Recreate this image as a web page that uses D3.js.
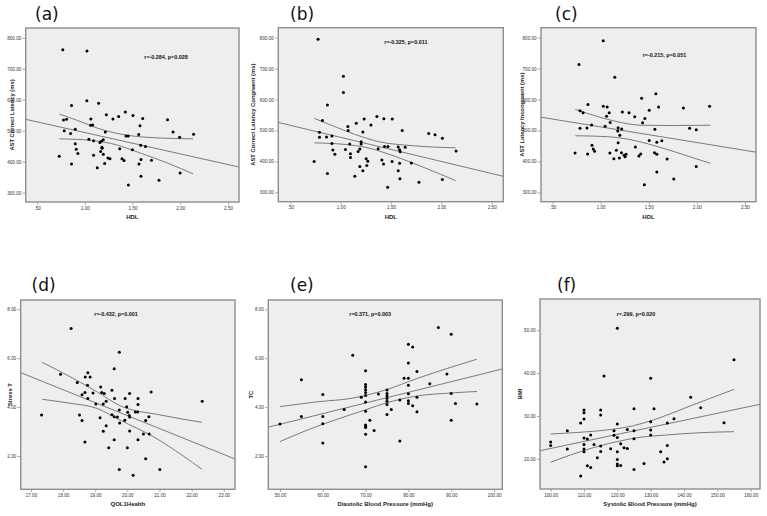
<!DOCTYPE html>
<html><head><meta charset="utf-8">
<script src="https://cdn.jsdelivr.net/npm/d3@7"></script>
<style>body{margin:0;background:#fff}svg{display:block}</style>
</head><body><svg id="c" width="767" height="516"></svg>
<script>
// ---------- tick labels ----------
const hdlTicks = [0.5, 1, 1.5, 2, 2.5];
const latencyTicks = [300, 400, 500, 600, 700, 800];
const qolTicks = [17, 18, 19, 20, 21, 22, 23];
const stressTicks = [2, 4, 6, 8];
const dbpTicks = [50, 60, 70, 80, 90, 100];
const tcTicks = [2, 4, 6, 8];
const sbpTicks = [100, 110, 120, 130, 140, 150, 160];
const bmiTicks = [20, 30, 40, 50];

// ---------- (a) HDL vs AST Correct Latency ----------
const aX = [0.769,1.022,1.021,1.144,0.860,1.225,1.294,1.354,1.424,1.504,1.606,1.866,0.776,0.808,1.063,1.060,1.081,1.578,1.924,1.993,2.139,0.784,0.899,0.850,1.214,1.564,1.431,1.454,1.042,1.091,1.172,1.193,0.899,1.158,1.179,1.181,1.585,1.635,1.365,1.499,0.910,0.927,1.165,1.193,0.731,1.091,1.242,1.263,1.389,1.410,1.698,1.588,0.860,1.207,1.567,1.130,1.998,1.588,1.777,1.456];
const aY = [762,758,597,589,582,552,538,546,561,549,540,536,535,537,538,518,519,516,496,479,489,500,505,491,496,488,483,483,473,468,466,471,458,462,447,444,453,449,442,439,440,427,433,424,418,421,412,410,410,404,405,407,393,394,393,381,364,353,340,325];
const aFitX = [0.38, 2.615], aFitY = [537, 383];
const aUpX = [0.734,0.927,1.137,1.417,1.767,2.134], aUpY = [554,533,508,487,477,474];
const aLoX = [0.734,1.067,1.277,1.592,1.872,2.134], aLoY = [474,469,459,427,395,361];

// ---------- (b) HDL vs AST Correct Latency Congruent ----------
const bX = [0.775,1.027,1.027,0.868,0.819,1.233,1.359,1.429,1.512,1.154,1.300,1.071,1.074,1.611,1.220,0.789,0.789,0.859,0.912,1.874,1.937,2.010,0.912,1.203,1.203,1.090,1.047,0.922,0.942,1.097,1.097,1.190,1.173,1.372,1.435,1.469,1.571,1.585,1.591,1.641,2.146,1.253,1.269,1.259,1.409,1.425,1.510,1.585,1.701,1.190,1.220,1.140,1.571,1.588,2.010,1.777,1.466,0.736,0.868];
const bY = [795,675,623,582,532,537,545,538,537,523,518,513,500,500,495,494,478,479,482,490,486,475,458,464,456,456,439,437,423,425,413,440,432,441,448,448,447,438,431,446,434,409,401,387,405,392,400,394,395,384,370,352,370,344,342,333,317,400,361];
const bFitX = [0.38, 2.615], bFitY = [526, 352];
const bUpX = [0.739,0.945,1.145,1.377,1.709,2.142], bUpY = [539,512,487,464,451,444];
const bLoX = [0.739,1.045,1.244,1.543,1.808,2.142], bLoY = [460,455,446,416,383,338];

// ---------- (c) HDL vs AST Latency Incongruent ----------
const cX = [1.027,0.775,1.147,1.426,1.574,0.868,1.027,1.068,1.602,2.132,1.860,0.786,0.817,1.061,1.089,1.226,1.295,1.354,1.505,1.460,1.436,1.099,1.047,0.906,0.786,0.858,1.182,1.219,1.178,1.564,1.925,1.994,1.199,1.505,1.636,1.584,1.182,1.361,0.910,0.923,0.937,0.734,0.865,1.096,1.164,1.216,1.244,1.264,1.254,1.137,1.195,1.398,1.416,1.560,1.584,1.691,1.584,1.994,1.760,1.454];
const cY = [790,713,672,604,619,584,578,576,576,578,573,564,557,546,557,560,557,544,565,539,525,526,514,518,507,508,509,505,498,504,507,502,485,468,467,462,460,447,452,440,433,427,424,427,436,428,420,423,415,409,411,418,424,428,423,408,366,384,343,325];
const cFitX = [0.38, 2.615], cFitY = [543, 430];
const cUpX = [0.737,0.969,1.177,1.420,1.766,2.140], cUpY = [568,545,528,517,516,517];
const cLoX = [0.737,1.073,1.281,1.593,1.870,2.140], cLoY = [483,480,472,448,421,394];

// ---------- (d) QOL1Health vs Stress T ----------
const dX = [18.25,19.75,19.59,17.92,18.77,18.44,18.69,18.84,18.76,19.17,19.20,19.28,18.93,18.68,18.59,18.77,19.52,20.07,20.74,19.60,19.93,20.33,19.02,19.25,19.34,20.33,22.33,19.98,19.75,20.01,20.25,20.32,20.06,20.07,19.52,19.59,19.69,19.15,17.33,18.51,20.67,18.59,20.57,19.92,19.76,19.34,20.07,19.25,20.50,20.68,19.59,20.33,18.68,19.42,20.00,20.57,19.75,21.01,20.18];
const dY = [7.21,6.24,5.57,5.34,5.41,5.01,5.23,5.23,4.89,4.82,4.60,4.56,4.58,4.60,4.51,4.35,4.69,4.56,4.62,4.35,4.35,4.35,4.13,4.13,4.24,4.11,4.24,4.02,3.88,3.79,3.80,3.80,3.66,3.60,3.69,3.61,3.60,3.57,3.68,3.68,3.61,3.45,3.45,3.46,3.35,3.24,3.02,3.01,2.90,2.90,2.67,2.67,2.57,2.34,2.34,1.89,1.45,1.45,1.21];
const dFitX = [16.68, 23.35], dFitY = [5.41, 1.88];
const dUpX = [17.35,18.21,19.05,19.77,21.02,22.32], dUpY = [5.83,5.25,4.63,4.06,3.68,3.38];
const dLoX = [17.35,18.21,19.05,19.77,20.81,21.74,22.32], dLoY = [4.32,4.16,3.95,3.47,2.79,2.00,1.46];

// ---------- (e) Diastolic Blood Pressure vs TC ----------
const eX = [87,90,80,81,67,80,70,82,55,89,79,80,85,70,70,70,70,70,80,75,75,75,75,75,75,73,69,70,80,80,80,82,82,78,81,90,91,96,90,76,75,65,60,55,60,60,50,60,71,70,70,70,70,72,78,70,70];
const eY = [7.26,6.98,6.57,6.46,6.12,5.80,5.49,5.46,5.12,5.35,5.18,5.18,4.96,4.93,4.82,4.71,4.60,4.48,4.89,4.70,4.56,4.45,4.35,4.24,4.11,4.54,4.40,4.21,4.55,4.26,4.15,4.40,3.81,4.29,4.06,4.56,4.15,4.13,3.46,3.90,3.70,3.90,4.52,3.62,3.62,3.32,3.31,2.53,3.46,3.27,3.21,3.17,2.89,3.04,2.61,3.83,1.56];
const eFitX = [47.27, 101.94], eFitY = [3.18, 5.56];
const eUpX = [50,58.9,66.7,74.6,82.2,89.2,96], eUpY = [4.02,4.22,4.36,4.70,5.18,5.59,5.96];
const eLoX = [50,56.5,62.8,69.8,74.6,82.2,89.2,96], eLoY = [2.59,3.07,3.47,3.88,4.16,4.46,4.57,4.64];

// ---------- (f) Systolic Blood Pressure vs BMI ----------
const fX = [120,155,116,130,142,145,125,131,110,110,110,115,115,137,135,130,152,109,120,105,119,123,125,130,130,112,119,120,110,111,125,100,100,110,113,115,121,135,105,110,118,122,123,110,115,120,133,114,120,135,134,128,111,112,120,120,121,125,109];
const fY = [50.47,43.14,39.32,38.78,34.33,31.92,31.68,31.68,31.37,30.75,29.27,31.37,30.20,29.35,28.33,28.64,28.41,28.33,28.10,26.54,26.54,26.85,26.54,26.70,25.53,25.53,25.45,24.98,24.82,24.59,24.67,23.89,23.11,23.34,23.34,22.95,23.50,23.11,22.25,22.25,22.33,22.56,22.41,21.63,21.70,21.63,21.63,20.23,19.84,19.99,19.21,18.90,18.36,17.97,18.75,18.36,18.43,17.50,15.94];
const fFitX = [96.8, 162.8], fFitY = [21.87, 32.71];
const fUpX = [100,108.8,116.8,124.8,132.8,141.8,155], fUpY = [25.77,26.17,26.70,27.71,29.58,32.31,36.20];
const fLoX = [100,106.8,113.8,120.8,126.8,134.8,144.8,155], fLoY = [19.16,21.10,22.80,24.14,25.00,25.54,26.07,26.31];

// ---------- drawing ----------
const svg = d3.select("#c");
const FONT = "'Liberation Sans', Arial, sans-serif";
const fmt2 = v => d3.format(".2f")(v).replace(/^0\./, ".");

function drawPanel(p) {
  const g = svg.append("g");
  const x = d3.scaleLinear().domain(p.xDom).range([p.x0, p.x1]);
  const y = d3.scaleLinear().domain(p.yDom).range([p.y1, p.y0]);

  g.append("rect").attr("x", p.x0).attr("y", p.y0)
    .attr("width", p.x1 - p.x0).attr("height", p.y1 - p.y0)
    .attr("fill", "#eeeeee").attr("stroke", "#8e8e8e").attr("stroke-width", 1.4);

  const ya = g.append("g").attr("transform", `translate(${p.x0 - 0.7},0)`)
    .call(d3.axisLeft(y).tickValues(p.yTicks).tickSize(2.5).tickPadding(1.2).tickFormat(fmt2));
  const xa = g.append("g").attr("transform", `translate(0,${p.y1 + 0.7})`)
    .call(d3.axisBottom(x).tickValues(p.xTicks).tickSize(2).tickPadding(1.6).tickFormat(fmt2));
  [ya, xa].forEach(a => {
    a.select(".domain").remove();
    a.selectAll("line").attr("stroke", "#666").attr("stroke-width", 0.6);
    a.selectAll("text").attr("font-size", 4.6).attr("font-family", FONT).attr("fill", "#333");
  });

  const clipId = "clip" + p.id;
  svg.append("clipPath").attr("id", clipId).append("rect")
    .attr("x", p.x0).attr("y", p.y0).attr("width", p.x1 - p.x0).attr("height", p.y1 - p.y0);

  const line = d3.line().x(d => x(d[0])).y(d => y(d[1]));
  const curve = d3.line().x(d => x(d[0])).y(d => y(d[1])).curve(d3.curveMonotoneX);
  const lg = g.append("g").attr("clip-path", `url(#${clipId})`)
    .attr("fill", "none").attr("stroke", "#7a7a7a").attr("stroke-width", 1);
  lg.append("path").attr("d", line(d3.zip(p.fitX, p.fitY)));
  lg.append("path").attr("d", curve(d3.zip(p.upX, p.upY)));
  lg.append("path").attr("d", curve(d3.zip(p.loX, p.loY)));

  g.append("g").selectAll("circle").data(d3.zip(p.xs, p.ys)).join("circle")
    .attr("cx", d => x(d[0])).attr("cy", d => y(d[1])).attr("r", 1.5).attr("fill", "#000");

  g.append("text").attr("x", p.annX).attr("y", p.annY).text(p.ann)
    .attr("font-size", 5.4).attr("font-weight", "bold").attr("font-family", FONT).attr("fill", "#111");

  g.append("text").attr("x", (p.x0 + p.x1) / 2).attr("y", p.y1 + 16.8).attr("text-anchor", "middle")
    .text(p.xTitle).attr("font-size", 6).attr("font-weight", "bold").attr("font-family", FONT).attr("fill", "#222");

  g.append("text").attr("transform", `translate(${p.yTitleX},${(p.y0 + p.y1) / 2}) rotate(-90)`)
    .attr("text-anchor", "middle").attr("dy", "0.35em")
    .text(p.yTitle).attr("font-size", 5.8).attr("font-weight", "bold").attr("font-family", FONT).attr("fill", "#222");

  g.append("text").attr("x", p.labX).attr("y", p.labY).text(p.label)
    .attr("font-size", 17).attr("font-family", "'DejaVu Sans', sans-serif").attr("fill", "#111");
}

const hdlDom = [0.38, 2.615], latDom = [270, 832];
drawPanel({id:"a", x0:25.7, x1:239, y0:28, y1:202, xDom:hdlDom, yDom:latDom, xTicks:hdlTicks, yTicks:latencyTicks,
  xs:aX, ys:aY, fitX:aFitX, fitY:aFitY, upX:aUpX, upY:aUpY, loX:aLoX, loY:aLoY,
  ann:"r=-0.284, p=0.028", annX:144.3, annY:59, xTitle:"HDL", yTitle:"AST Correct Latency (ms)", yTitleX:12.3,
  label:"(a)", labX:35, labY:20});
drawPanel({id:"b", x0:278.3, x1:503.3, y0:27.7, y1:201.7, xDom:hdlDom, yDom:latDom, xTicks:hdlTicks, yTicks:latencyTicks,
  xs:bX, ys:bY, fitX:bFitX, fitY:bFitY, upX:bUpX, upY:bUpY, loX:bLoX, loY:bLoY,
  ann:"r=-0.325, p=0.011", annX:384.3, annY:44.3, xTitle:"HDL", yTitle:"AST Correct Latency Congruent (ms)", yTitleX:253.3,
  label:"(b)", labX:290, labY:20});
drawPanel({id:"c", x0:541, x1:756, y0:27.7, y1:201.7, xDom:hdlDom, yDom:latDom, xTicks:hdlTicks, yTicks:latencyTicks,
  xs:cX, ys:cY, fitX:cFitX, fitY:cFitY, upX:cUpX, upY:cUpY, loX:cLoX, loY:cLoY,
  ann:"r=-0.215, p=0.051", annX:642.7, annY:57, xTitle:"HDL", yTitle:"AST Latency Incongruent (ms)", yTitleX:522.3,
  label:"(c)", labX:555, labY:20});
drawPanel({id:"d", x0:20.7, x1:235, y0:300, y1:489.3, xDom:[16.68, 23.35], yDom:[0.64, 8.38], xTicks:qolTicks, yTicks:stressTicks,
  xs:dX, ys:dY, fitX:dFitX, fitY:dFitY, upX:dUpX, upY:dUpY, loX:dLoX, loY:dLoY,
  ann:"r=-0.432, p=0.001", annX:94.3, annY:316.3, xTitle:"QOL1Health", yTitle:"Stress T", yTitleX:10,
  label:"(d)", labX:31.5, labY:291});
drawPanel({id:"e", x0:268.3, x1:502.3, y0:300, y1:489.3, xDom:[47.27, 101.94], yDom:[0.64, 8.38], xTicks:dbpTicks, yTicks:tcTicks,
  xs:eX, ys:eY, fitX:eFitX, fitY:eFitY, upX:eUpX, upY:eUpY, loX:eLoX, loY:eLoY,
  ann:"r=0.371, p=0.003", annX:349.3, annY:316.3, xTitle:"Diastolic Blood Pressure (mmHg)", yTitle:"TC", yTitleX:250.7,
  label:"(e)", labX:290, labY:291});
drawPanel({id:"f", x0:540, x1:760, y0:299, y1:489, xDom:[96.8, 162.8], yDom:[12.92, 57.31], xTicks:sbpTicks, yTicks:bmiTicks,
  xs:fX, ys:fY, fitX:fFitX, fitY:fFitY, upX:fUpX, upY:fUpY, loX:fLoX, loY:fLoY,
  ann:"r=.299, p=0.020", annX:616.7, annY:316, xTitle:"Systolic Blood Pressure (mmHg)", yTitle:"BMI", yTitleX:520,
  label:"(f)", labX:557, labY:291});
</script></body></html>
